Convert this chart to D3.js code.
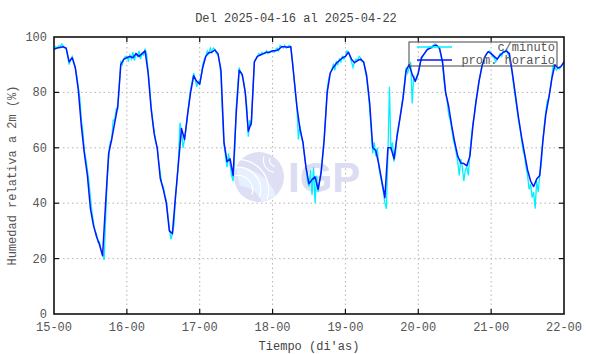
<!DOCTYPE html>
<html>
<head>
<meta charset="utf-8">
<script src="https://cdn.jsdelivr.net/npm/d3@7"></script>
<style>
  body { margin: 0; background: #fff; }
  svg text { font-family: "Liberation Mono", "DejaVu Sans Mono", monospace; }
</style>
</head>
<body>
<svg id="chart"></svg>
<script>
// x tick labels (day-hour)
var dayLabels = ['15-00', '16-00', '17-00', '18-00', '19-00', '20-00', '21-00', '22-00'];
var yTicks = [0, 20, 40, 60, 80, 100];

// hourly means (prom. horario), one array per day, h00..h23
var prom15 = [95.6, 96, 96.2, 96.5, 96, 91, 92.5, 89, 81, 68, 58, 50, 38, 32, 28, 25, 21, 40, 58, 63, 69, 75, 90, 92];
var prom16 = [92.5, 93, 92.5, 94, 93, 94, 95, 87, 74, 65, 60, 49, 45, 40, 30, 29, 42, 54.5, 67, 63, 72, 80, 86, 84];
var prom17 = [83, 89, 93, 94.3, 94.5, 95.3, 94, 88, 62, 55, 56, 50, 72, 88, 86.5, 80, 66, 69, 91, 93, 93.5, 94, 94.5, 94.5];
var prom18 = [95, 95, 95.5, 96.5, 96.5, 96.3, 96.5, 86, 75, 67, 62, 53, 47, 48.5, 49.5, 45, 51, 63, 80, 87, 89, 90.5, 91.5, 92.5];
var prom19 = [93, 94.5, 92, 90.7, 91.5, 92, 91, 86, 76, 60, 59, 54, 48, 42, 60, 60, 56, 64, 71, 78, 88, 90, 86.5, 84];
var prom20 = [87, 92.5, 94, 95.5, 96, 96.8, 97, 96, 91, 80, 75, 68, 62, 57, 54.5, 54.3, 53.5, 57, 68, 76.6, 84, 89.5, 93, 94.7];
var prom21 = [94, 93, 92, 93.5, 94.5, 95, 94, 87, 79, 71, 64, 58, 52, 48, 46, 48.7, 50, 62, 72, 78, 85, 90, 88.8, 89.3];
var prom22 = [91];

// per-minute readings (c/minuto), read every half hour, one array per day
var min15 = [95.5, 96.5, 96, 96.8, 96.5, 97.5, 96.8, 96, 96, 93, 90, 92, 93, 91, 89, 86, 82, 78, 70, 66, 59, 56, 52, 48,
             42, 37, 33, 30, 29, 26, 26, 23, 22, 19.5, 34, 48, 56, 62, 63, 70, 70, 74, 74, 82, 91, 90, 92, 93];
var min16 = [93, 91.5, 93.5, 92, 94.5, 91.5, 94, 93, 95, 92, 94, 93.5, 95.5, 94, 88, 82, 75, 70, 66, 62, 60, 55, 51, 47,
             46, 43, 41, 36, 31, 27, 29, 32, 42, 48, 56, 69, 66, 60, 63, 67, 72, 77, 81, 84, 87, 85, 82, 84];
var min17 = [83, 86, 90, 92, 93, 95, 94, 96, 94.5, 96, 95.5, 94, 94, 91, 86, 72, 61, 57, 53, 58, 54, 50, 48, 58,
             74, 82, 89, 87, 86, 84, 80, 75, 64, 70, 68, 80, 91, 92, 93, 94, 93.5, 94.5, 94, 94, 95, 94, 94.5, 95];
var min18 = [95, 94.5, 95.5, 96, 95, 97, 96.5, 96, 97, 96, 96.5, 97, 96.5, 92, 86, 80, 75, 63, 68, 64, 62, 57, 53, 48,
             46, 52, 43, 53, 40, 50, 44, 48, 52, 57, 63, 72, 81, 85, 87, 88, 90, 88, 91, 90, 92, 91, 93, 92];
var min19 = [93, 95, 94.5, 93, 91, 89, 91, 92, 91.5, 93, 92.5, 91, 91, 88, 85, 80, 74, 66, 58, 62, 57, 60, 53, 50,
             47, 44, 40, 38, 58, 82, 59, 62, 55, 58, 65, 68, 71, 75, 79, 84, 89, 87, 89, 91, 76, 86, 84, 85];
var min20 = [87, 90, 92, 93, 94, 95, 95.5, 96, 96.5, 96, 97, 97.5, 97, 96.5, 95.5, 93, 90, 84, 80, 77, 72, 70, 67, 63,
             61, 58, 55, 50, 56, 53, 48, 52, 53, 50, 58, 64, 69, 72, 77, 80, 84, 87, 90, 91, 93, 94, 94.5, 95];
var min21 = [94, 93, 92.5, 91, 92, 93, 94, 93, 95, 94.5, 95.5, 94, 93, 90, 86, 82, 78, 74, 70, 67, 63, 59, 57, 53,
             50, 45, 47, 42, 44, 38, 48, 44, 50, 54, 62, 68, 73, 77, 78, 81, 86, 90, 89, 88, 89, 88.5, 89.5, 90];
var min22 = [91];

var width = 590, height = 354;
var margin = {left: 54, right: 26, top: 37, bottom: 40};

var svg = d3.select('#chart')
    .attr('width', width)
    .attr('height', height);

var x = d3.scaleLinear()
    .domain([0, 168])
    .range([margin.left, width - margin.right]);
var y = d3.scaleLinear()
    .domain([0, 100])
    .range([height - margin.bottom, margin.top]);

var promAll = [].concat(prom15, prom16, prom17, prom18, prom19, prom20, prom21, prom22)
    .map(function(v, i) { return {h: i, v: v}; });
var minAll = [].concat(min15, min16, min17, min18, min19, min20, min21, min22)
    .map(function(v, i) { return {h: i * 0.5, v: v}; });

var dayHours = dayLabels.map(function(d, i) { return i * 24; });

//grid (dotted)
var grid = svg.append('g').attr('class', 'grid');
grid.selectAll('line.vg')
    .data(dayHours.slice(1, -1))
    .enter().append('line')
    .attr('x1', function(d) { return x(d); })
    .attr('x2', function(d) { return x(d); })
    .attr('y1', y(0)).attr('y2', y(100))
    .attr('stroke', '#b4b4b4')
    .attr('stroke-dasharray', '1.5,3');
grid.selectAll('line.hg')
    .data(yTicks.slice(1, -1))
    .enter().append('line')
    .attr('x1', x(0)).attr('x2', x(168))
    .attr('y1', function(d) { return y(d); })
    .attr('y2', function(d) { return y(d); })
    .attr('stroke', '#b4b4b4')
    .attr('stroke-dasharray', '1.5,3');

//faint IGP watermark
var logo = svg.append('g').attr('class', 'logo');
logo.append('circle')
    .attr('cx', 259).attr('cy', 177).attr('r', 25)
    .attr('fill', '#dedef4');
logo.append('path')
    .attr('d', 'M236,168 A40,40 0 0 1 276,196 L262,202 A26,26 0 0 0 240,186 Z')
    .attr('fill', '#e6f0ff');
[14, 22, 30].forEach(function(r) {
    logo.append('path')
        .attr('d', d3.arc()({innerRadius: r, outerRadius: r + 1.3, startAngle: -0.2, endAngle: 1.9}))
        .attr('transform', 'translate(238,190)')
        .attr('fill', '#fff');
});
[6, 12].forEach(function(r) {
    logo.append('path')
        .attr('d', d3.arc()({innerRadius: r, outerRadius: r + 1.2, startAngle: 3.3, endAngle: 5.0}))
        .attr('transform', 'translate(276,160)')
        .attr('fill', '#fff');
});
logo.append('text')
    .attr('x', 288).attr('y', 192)
    .attr('font-weight', 'bold')
    .attr('font-size', '42px')
    .attr('fill', '#dcdcf2')
    .style('font-family', '"Liberation Sans", Arial, sans-serif')
    .text('IGP');

//data lines
var line = d3.line()
    .x(function(d) { return x(d.h); })
    .y(function(d) { return y(d.v); });

svg.append('path')
    .datum(minAll)
    .attr('d', line)
    .attr('fill', 'none')
    .attr('stroke', '#00f0ff')
    .attr('stroke-width', 1.3);

svg.append('path')
    .datum(promAll)
    .attr('d', line)
    .attr('fill', 'none')
    .attr('stroke', '#0a14ff')
    .attr('stroke-width', 1.5)
    .attr('stroke-linejoin', 'round');

//frame and inside ticks
var axes = svg.append('g').attr('class', 'axes');
axes.append('rect')
    .attr('x', x(0)).attr('y', y(100))
    .attr('width', x(168) - x(0))
    .attr('height', y(0) - y(100))
    .attr('fill', 'none')
    .attr('stroke', '#111')
    .attr('stroke-width', 1.6);

dayHours.slice(1, -1).forEach(function(h) {
    axes.append('line').attr('x1', x(h)).attr('x2', x(h))
        .attr('y1', y(0)).attr('y2', y(0) - 5).attr('stroke', '#111').attr('stroke-width', 1.2);
    axes.append('line').attr('x1', x(h)).attr('x2', x(h))
        .attr('y1', y(100)).attr('y2', y(100) + 5).attr('stroke', '#111').attr('stroke-width', 1.2);
});
yTicks.slice(1, -1).forEach(function(v) {
    axes.append('line').attr('x1', x(0)).attr('x2', x(0) + 5)
        .attr('y1', y(v)).attr('y2', y(v)).attr('stroke', '#111').attr('stroke-width', 1.2);
    axes.append('line').attr('x1', x(168)).attr('x2', x(168) - 5)
        .attr('y1', y(v)).attr('y2', y(v)).attr('stroke', '#111').attr('stroke-width', 1.2);
});

//tick labels
svg.selectAll('text.xt')
    .data(dayLabels)
    .enter().append('text')
    .attr('class', 'xt')
    .attr('x', function(d, i) { return x(dayHours[i]); })
    .attr('y', y(0) + 17)
    .attr('text-anchor', 'middle')
    .attr('font-size', '12px')
    .attr('fill', '#555')
    .text(function(d) { return d; });

svg.selectAll('text.yt')
    .data(yTicks)
    .enter().append('text')
    .attr('class', 'yt')
    .attr('x', x(0) - 7)
    .attr('y', function(d) { return y(d) + 4; })
    .attr('text-anchor', 'end')
    .attr('font-size', '12px')
    .attr('fill', '#555')
    .text(function(d) { return d; });

//titles
svg.append('text')
    .attr('x', 296).attr('y', 22)
    .attr('text-anchor', 'middle')
    .attr('font-size', '12px')
    .attr('fill', '#444')
    .text('Del 2025-04-16 al 2025-04-22');

svg.append('text')
    .attr('x', 309).attr('y', 350)
    .attr('text-anchor', 'middle')
    .attr('font-size', '12px')
    .attr('fill', '#444')
    .text("Tiempo (di'as)");

svg.append('text')
    .attr('transform', 'translate(16,' + (y(50)) + ') rotate(-90)')
    .attr('text-anchor', 'middle')
    .attr('font-size', '12px')
    .attr('fill', '#555')
    .text('Humedad relativa a 2m (%)');

//legend
var legend = svg.append('g').attr('class', 'legend');
legend.append('rect')
    .attr('x', 409).attr('y', 42)
    .attr('width', 148).attr('height', 24)
    .attr('fill', 'none')
    .attr('stroke', '#444')
    .attr('stroke-width', 1);
var legendItems = [
    {label: 'c/minuto', color: '#00f0ff', w: 1.3},
    {label: 'prom. horario', color: '#0a14ff', w: 1.5}
];
legendItems.forEach(function(it, i) {
    var ly = 47 + i * 13;
    legend.append('line')
        .attr('x1', 417).attr('x2', 452)
        .attr('y1', ly).attr('y2', ly)
        .attr('stroke', it.color)
        .attr('stroke-width', it.w);
    legend.append('text')
        .attr('x', 555).attr('y', ly + 4)
        .attr('text-anchor', 'end')
        .attr('font-size', '12px')
        .attr('fill', '#555')
        .text(it.label);
});
</script>
</body>
</html>
